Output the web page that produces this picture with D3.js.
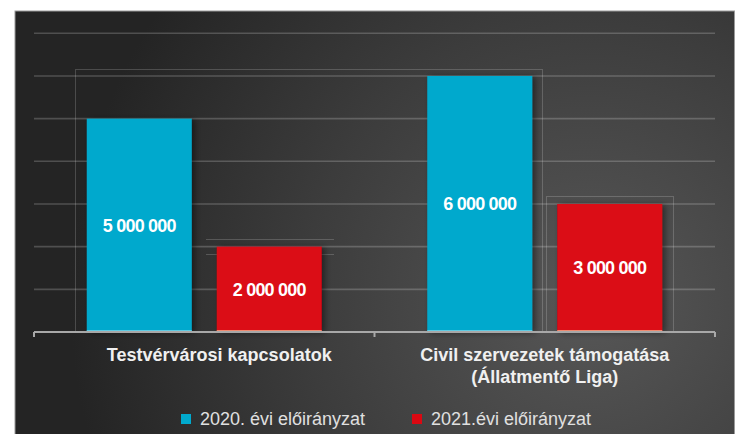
<!DOCTYPE html>
<html><head><meta charset="utf-8">
<script src="https://cdn.jsdelivr.net/npm/d3@7"></script>
<style>html,body{margin:0;padding:0;background:#fff;}svg{display:block;}</style>
</head><body>
<script>
const categories = ["Testvérvárosi kapcsolatok", "Civil szervezetek támogatása\n(Állatmentő Liga)"];
const seriesNames = ["2020. évi előirányzat", "2021.évi előirányzat"];
const values2020 = [5000000, 6000000];
const values2021 = [2000000, 3000000];
const valueLabels2020 = ["5 000 000", "6 000 000"];
const valueLabels2021 = ["2 000 000", "3 000 000"];
const yTicks = [0, 1000000, 2000000, 3000000, 4000000, 5000000, 6000000, 7000000];
const colors = ["#01a9cd", "#db0812"];

const W = 746, H = 434;
const svg = d3.select("body").append("svg").attr("width", W).attr("height", H);
const defs = svg.append("defs");
const rg = defs.append("radialGradient").attr("id", "bg").attr("gradientUnits", "userSpaceOnUse")
  .attr("cx", 590).attr("cy", 300).attr("r", 520);
rg.append("stop").attr("offset", "0").attr("stop-color", "#575757");
rg.append("stop").attr("offset", "0.55").attr("stop-color", "#3c3c3c");
rg.append("stop").attr("offset", "1").attr("stop-color", "#242424");
const f = defs.append("filter").attr("id", "sh").attr("x", "-20%").attr("y", "-20%").attr("width", "150%").attr("height", "140%");
f.append("feDropShadow").attr("dx", 3).attr("dy", 1).attr("stdDeviation", 3).attr("flood-color", "#000").attr("flood-opacity", 0.45);

svg.append("rect").attr("x", 15).attr("y", 11).attr("width", 719.5).attr("height", 430)
  .attr("fill", "url(#bg)").attr("stroke", "#9a9a9a").attr("stroke-width", 1);

const y = d3.scaleLinear().domain([0, 7000000]).range([332, 33.3]);
const x0 = d3.scaleBand().domain(categories).range([34, 715]);
const x1 = d3.scaleBand().domain([0, 1]).range([0, x0.bandwidth()]).paddingInner(0.1923).paddingOuter(0.406);

// gridlines
svg.append("g").selectAll("line").data(yTicks.slice(1)).join("line")
  .attr("x1", 34).attr("x2", 715).attr("y1", d => y(d)).attr("y2", d => y(d))
  .attr("stroke", "rgba(255,255,255,0.2)").attr("stroke-width", 1.6);

// ghost frames
const ghost = svg.append("g").attr("fill", "none").attr("stroke", "rgba(255,255,255,0.18)").attr("stroke-width", 1);
ghost.append("rect").attr("x", 75.5).attr("y", 69.5).attr("width", 467).attr("height", 262);
ghost.append("rect").attr("x", 546.5).attr("y", 196.5).attr("width", 127).attr("height", 135);
ghost.append("line").attr("x1", 206).attr("x2", 334).attr("y1", 239.5).attr("y2", 239.5);
ghost.append("line").attr("x1", 206).attr("x2", 334).attr("y1", 254.5).attr("y2", 254.5);

const data = categories.map((c, i) => ({c, vals: [values2020[i], values2021[i]], labs: [valueLabels2020[i], valueLabels2021[i]]}));
const bars = [];
data.forEach(d => d.vals.forEach((v, s) => bars.push({c: d.c, s, v, lab: d.labs[s]})));

const bg = svg.append("g");
bg.selectAll("rect").data(bars).join("rect")
  .attr("x", d => x0(d.c) + x1(d.s)).attr("width", x1.bandwidth())
  .attr("y", d => y(d.v)).attr("height", d => y(0) - y(d.v))
  .attr("fill", d => colors[d.s]).attr("filter", "url(#sh)");
bg.selectAll("line").data(bars).join("line")
  .attr("x1", d => x0(d.c) + x1(d.s)).attr("x2", d => x0(d.c) + x1(d.s) + x1.bandwidth())
  .attr("y1", 331).attr("y2", 331).attr("stroke", d => d.s ? "#f08a70" : "#5fcbe3").attr("stroke-width", 2);

svg.append("g").selectAll("text").data(bars).join("text")
  .attr("x", d => x0(d.c) + x1(d.s) + x1.bandwidth() / 2)
  .attr("y", d => (y(d.v) + y(0)) / 2).attr("dy", "0.36em")
  .attr("text-anchor", "middle").attr("fill", "#fff")
  .attr("font-family", "Liberation Sans, Arial, sans-serif").attr("font-weight", "bold")
  .attr("font-size", 18).attr("letter-spacing", -0.8)
  .text(d => d.lab);

// axis
const ax = svg.append("g").attr("transform", "translate(0,332)");
ax.append("line").attr("x1", 34).attr("x2", 715).attr("stroke", "#a8a8a8").attr("stroke-width", 2);
ax.selectAll("line.t").data([34, x0.range()[0] + x0.step(), 715]).join("line").attr("class", "t")
  .attr("x1", d => d).attr("x2", d => d).attr("y1", 0).attr("y2", 5).attr("stroke", "#a8a8a8").attr("stroke-width", 2);

const catOffset = [15, 0];
const ct = svg.append("g").selectAll("text").data(categories).join("text")
  .attr("x", (d, i) => x0(d) + x0.bandwidth() / 2 + catOffset[i])
  .attr("y", 361).attr("text-anchor", "middle").attr("fill", "#f0f0f0")
  .attr("font-family", "Liberation Sans, Arial, sans-serif").attr("font-weight", "bold").attr("font-size", 18);
ct.each(function(d) {
  const lines = d.split("\n");
  const t = d3.select(this);
  lines.forEach((l, k) => t.append("tspan").attr("x", t.attr("x")).attr("dy", k ? 22 : 0).text(l));
});

// legend
const legX = [181, 412];
const lg = svg.append("g").selectAll("g").data(seriesNames).join("g")
  .attr("transform", (d, i) => `translate(${legX[i]},414)`);
lg.append("rect").attr("width", 10).attr("height", 10).attr("fill", (d, i) => colors[i]);
lg.append("text").attr("x", 19).attr("y", 5).attr("dy", "0.36em").attr("fill", "#e0e0e0")
  .attr("font-family", "Liberation Sans, Arial, sans-serif").attr("font-size", 18).text(d => d);
</script>
</body></html>
